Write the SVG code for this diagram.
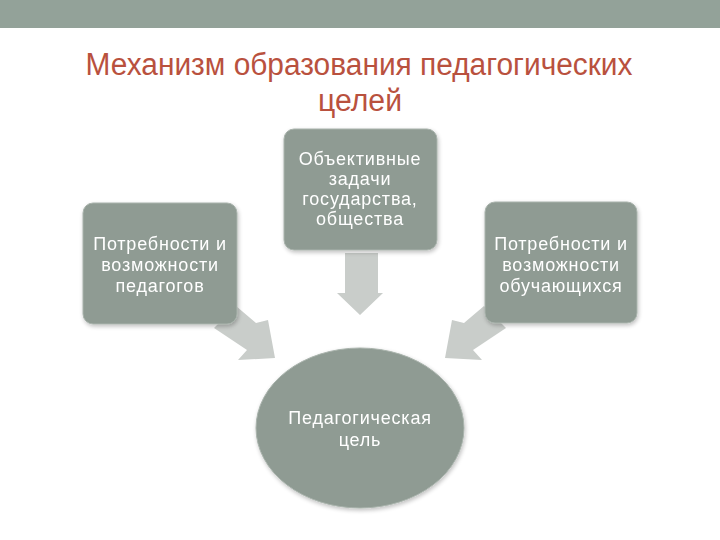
<svg xmlns="http://www.w3.org/2000/svg" width="720" height="540" viewBox="0 0 720 540">
<defs>
<style>
.title{font-family:"Liberation Sans",Arial,sans-serif;font-size:31px;fill:#B9513E;text-anchor:middle}
.lbl{font-family:"Liberation Sans",Arial,sans-serif;font-size:18px;letter-spacing:0.8px;fill:#FFFFFF;text-anchor:middle}
.box{fill:#8F9B93;stroke:#A9B3AC;stroke-width:1}
.arr{fill:#C9CDCA}
</style>
<filter id="sh" x="-10%" y="-10%" width="130%" height="130%">
<feGaussianBlur in="SourceAlpha" stdDeviation="2"/>
<feOffset dx="1" dy="2" result="b"/>
<feComponentTransfer><feFuncA type="linear" slope="0.25"/></feComponentTransfer>
<feMerge><feMergeNode/><feMergeNode in="SourceGraphic"/></feMerge>
</filter>
</defs>
<rect x="0" y="0" width="720" height="540" fill="#FFFFFF"/>
<rect x="0" y="0" width="720" height="28" fill="#93A299"/>
<text class="title" x="359" y="75" textLength="547" lengthAdjust="spacingAndGlyphs">Механизм образования педагогических</text>
<text class="title" x="360" y="111" textLength="84" lengthAdjust="spacingAndGlyphs">целей</text>
<g id="connectors">
<polygon class="arr" points="345,253 378,253 378,293 383,293 360,315 337,293 345,293"/>
<polygon class="arr" points="236,306 256,323 268,320 275,358 238,360 247,350 214,328"/>
<polygon class="arr" points="484,306 464,323 452,320 445,358 482,360 473,350 506,328"/>
</g>
<g id="node-top" filter="url(#sh)">
<rect class="box" x="284" y="129" width="153" height="121" rx="10"/>
<text class="lbl" x="360" y="165">Объективные</text>
<text class="lbl" x="360" y="185">задачи</text>
<text class="lbl" x="360" y="205">государства,</text>
<text class="lbl" x="360" y="225">общества</text>
</g>
<g id="node-left" filter="url(#sh)">
<rect class="box" x="83" y="203" width="154" height="121" rx="10"/>
<text class="lbl" x="160" y="250">Потребности и</text>
<text class="lbl" x="160" y="271">возможности</text>
<text class="lbl" x="160" y="292">педагогов</text>
</g>
<g id="node-right" filter="url(#sh)">
<rect class="box" x="485" y="202" width="152" height="121" rx="10"/>
<text class="lbl" x="561" y="250">Потребности и</text>
<text class="lbl" x="561" y="271">возможности</text>
<text class="lbl" x="561" y="292">обучающихся</text>
</g>
<g id="node-goal" filter="url(#sh)">
<ellipse class="box" cx="360" cy="428" rx="104" ry="80"/>
<text class="lbl" x="360" y="424">Педагогическая</text>
<text class="lbl" x="360" y="446">цель</text>
</g>
</svg>
